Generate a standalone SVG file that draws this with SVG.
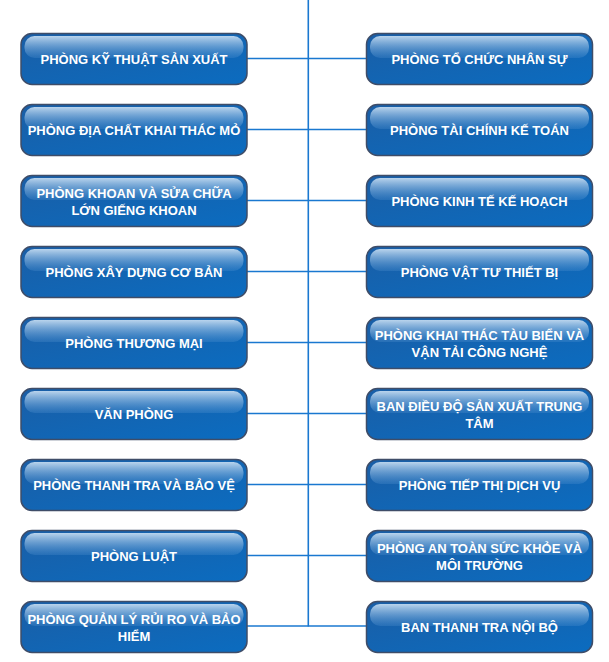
<svg xmlns="http://www.w3.org/2000/svg" width="609" height="662" viewBox="0 0 609 662">
<defs>
<linearGradient id="base" x1="0" y1="0" x2="1" y2="1">
<stop offset="0" stop-color="#1a5ea6"/>
<stop offset="1" stop-color="#0b6cc0"/>
</linearGradient>
<linearGradient id="gloss" x1="0" y1="0" x2="0" y2="1">
<stop offset="0" stop-color="#c2daf0" stop-opacity="0.95"/>
<stop offset="1" stop-color="#5a98d4" stop-opacity="0.25"/>
</linearGradient>
<g id="box">
<rect x="0.5" y="0.5" width="226" height="51" rx="11" ry="11" fill="url(#base)" stroke="#3f4d68" stroke-width="1.5"/>
<rect x="4" y="3" width="219" height="22" rx="10" ry="10" fill="url(#gloss)"/>
</g>
</defs>
<style>
.t{font-family:"Liberation Sans",Arial,sans-serif;font-weight:bold;font-size:13px;fill:#ffffff;text-anchor:middle}
.c{stroke:#1a78d0;stroke-width:1.6;fill:none}
</style>
<g id="connectors">
<line class="c" x1="308.3" y1="0" x2="308.3" y2="626.5"/>
<line class="c" x1="247" y1="58.5" x2="366" y2="58.5"/>
<line class="c" x1="247" y1="129.5" x2="366" y2="129.5"/>
<line class="c" x1="247" y1="200.5" x2="366" y2="200.5"/>
<line class="c" x1="247" y1="271.5" x2="366" y2="271.5"/>
<line class="c" x1="247" y1="342.5" x2="366" y2="342.5"/>
<line class="c" x1="247" y1="413.5" x2="366" y2="413.5"/>
<line class="c" x1="247" y1="484.5" x2="366" y2="484.5"/>
<line class="c" x1="247" y1="555.5" x2="366" y2="555.5"/>
<line class="c" x1="247" y1="626" x2="366" y2="626"/>
</g>
<g id="l1" transform="translate(20.5,33)"><use href="#box"/><text class="t" x="113.5" y="30.5">PHÒNG KỸ THUẬT SẢN XUẤT</text></g>
<g id="l2" transform="translate(20.5,104)"><use href="#box"/><text class="t" x="113.5" y="30.5">PHÒNG ĐỊA CHẤT KHAI THÁC MỎ</text></g>
<g id="l3" transform="translate(20.5,175)"><use href="#box"/><text class="t" x="113.5" y="22.5">PHÒNG KHOAN VÀ SỬA CHỮA</text><text class="t" x="113.5" y="39.5">LỚN GIẾNG KHOAN</text></g>
<g id="l4" transform="translate(20.5,246)"><use href="#box"/><text class="t" x="113.5" y="30.5">PHÒNG XÂY DỰNG CƠ BẢN</text></g>
<g id="l5" transform="translate(20.5,317)"><use href="#box"/><text class="t" x="113.5" y="30.5">PHÒNG THƯƠNG MẠI</text></g>
<g id="l6" transform="translate(20.5,388)"><use href="#box"/><text class="t" x="113.5" y="30.5">VĂN PHÒNG</text></g>
<g id="l7" transform="translate(20.5,459)"><use href="#box"/><text class="t" x="113.5" y="30.5">PHÒNG THANH TRA VÀ BẢO VỆ</text></g>
<g id="l8" transform="translate(20.5,530)"><use href="#box"/><text class="t" x="113.5" y="30.5">PHÒNG LUẬT</text></g>
<g id="l9" transform="translate(20.5,601)"><use href="#box"/><text class="t" x="113.5" y="22.5">PHÒNG QUẢN LÝ RỦI RO VÀ BẢO</text><text class="t" x="113.5" y="39.5">HIỂM</text></g>
<g id="r1" transform="translate(366,33)"><use href="#box"/><text class="t" x="113.5" y="30.5">PHÒNG TỔ CHỨC NHÂN SỰ</text></g>
<g id="r2" transform="translate(366,104)"><use href="#box"/><text class="t" x="113.5" y="30.5">PHÒNG TÀI CHÍNH KẾ TOÁN</text></g>
<g id="r3" transform="translate(366,175)"><use href="#box"/><text class="t" x="113.5" y="30.5">PHÒNG KINH TẾ KẾ HOẠCH</text></g>
<g id="r4" transform="translate(366,246)"><use href="#box"/><text class="t" x="113.5" y="30.5">PHÒNG VẬT TƯ THIẾT BỊ</text></g>
<g id="r5" transform="translate(366,317)"><use href="#box"/><text class="t" x="113.5" y="22.5">PHÒNG KHAI THÁC TÀU BIỂN VÀ</text><text class="t" x="113.5" y="39.5">VẬN TẢI CÔNG NGHỆ</text></g>
<g id="r6" transform="translate(366,388)"><use href="#box"/><text class="t" x="113.5" y="22.5">BAN ĐIỀU ĐỘ SẢN XUẤT TRUNG</text><text class="t" x="113.5" y="39.5">TÂM</text></g>
<g id="r7" transform="translate(366,459)"><use href="#box"/><text class="t" x="113.5" y="30.5">PHÒNG TIẾP THỊ DỊCH VỤ</text></g>
<g id="r8" transform="translate(366,530)"><use href="#box"/><text class="t" x="113.5" y="22.5">PHÒNG AN TOÀN SỨC KHỎE VÀ</text><text class="t" x="113.5" y="39.5">MÔI TRƯỜNG</text></g>
<g id="r9" transform="translate(366,601)"><use href="#box"/><text class="t" x="113.5" y="30.5">BAN THANH TRA NỘI BỘ</text></g>
</svg>
